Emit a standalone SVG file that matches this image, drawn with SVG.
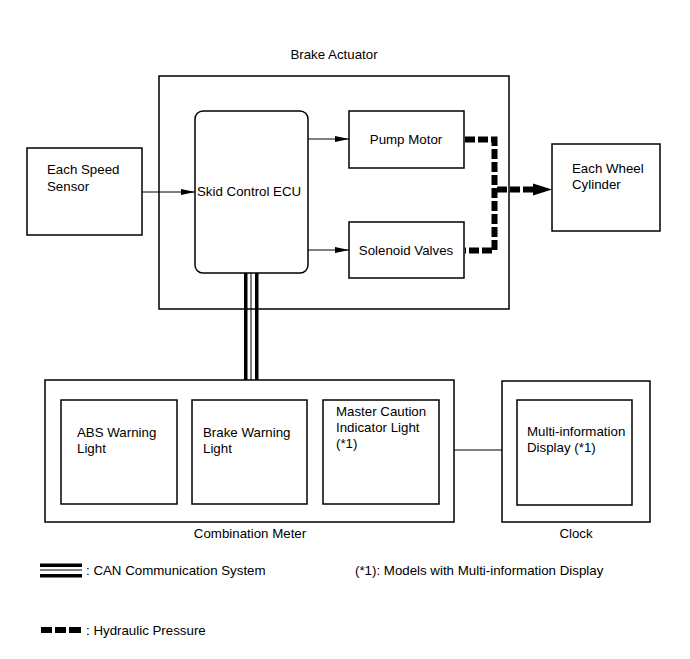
<svg xmlns="http://www.w3.org/2000/svg" width="690" height="659" viewBox="0 0 690 659">
<defs>
<style>
.box{fill:#fff;stroke:#000;stroke-width:1.5}
.t{font-family:"Liberation Sans",Arial,sans-serif;font-size:13.3px;fill:#000}
.mid{text-anchor:middle}
.thin{stroke:#000;stroke-width:1;fill:none}
.hyd{stroke:#000;stroke-width:6;fill:none;stroke-dasharray:10,3}
</style>
<marker id="arr" markerWidth="14" markerHeight="6" refX="14" refY="3" orient="auto" markerUnits="userSpaceOnUse">
<path d="M0,0 L14,3 L0,6 Z" fill="#000"/>
</marker>
</defs>
<rect width="690" height="659" fill="#fff"/>

<g id="brake-actuator">
<rect class="box" x="159" y="76" width="350" height="233"/>
<text class="t mid" x="334" y="59">Brake Actuator</text>
</g>

<g id="skid-control-ecu">
<rect class="box" x="195" y="111" width="113" height="162" rx="8"/>
<text class="t" x="197" y="196">Skid Control ECU</text>
</g>

<g id="pump-motor">
<rect class="box" x="349" y="111" width="115" height="57"/>
<text class="t mid" x="406" y="144">Pump Motor</text>
</g>

<g id="solenoid-valves">
<rect class="box" x="349" y="222" width="115" height="56"/>
<text class="t mid" x="406" y="255">Solenoid Valves</text>
</g>

<g id="each-speed-sensor">
<rect class="box" x="27" y="148" width="115" height="87"/>
<text class="t" x="47" y="174">Each Speed</text>
<text class="t" x="47" y="191">Sensor</text>
</g>

<g id="each-wheel-cylinder">
<rect class="box" x="552" y="144" width="108" height="87"/>
<text class="t" x="572" y="173">Each Wheel</text>
<text class="t" x="572" y="189">Cylinder</text>
</g>

<g id="combination-meter">
<rect class="box" x="45" y="380" width="409" height="142"/>
<text class="t mid" x="250" y="538">Combination Meter</text>
</g>

<g id="abs-warning-light">
<rect class="box" x="61" y="400" width="116" height="104"/>
<text class="t" x="77" y="437">ABS Warning</text>
<text class="t" x="77" y="453">Light</text>
</g>

<g id="brake-warning-light">
<rect class="box" x="192" y="400" width="115" height="104"/>
<text class="t" x="203" y="437">Brake Warning</text>
<text class="t" x="203" y="453">Light</text>
</g>

<g id="master-caution-indicator-light">
<rect class="box" x="323" y="400" width="116" height="104"/>
<text class="t" x="336" y="416">Master Caution</text>
<text class="t" x="336" y="432">Indicator Light</text>
<text class="t" x="336" y="448">(*1)</text>
</g>

<g id="clock">
<rect class="box" x="502" y="381" width="148" height="141"/>
<text class="t mid" x="576" y="538">Clock</text>
</g>

<g id="multi-information-display">
<rect class="box" x="517" y="400" width="115" height="105"/>
<text class="t" x="527" y="436">Multi-information</text>
<text class="t" x="527" y="452">Display (*1)</text>
</g>

<g id="connectors">
<line class="thin" x1="142" y1="192" x2="195" y2="192" marker-end="url(#arr)"/>
<line class="thin" x1="308" y1="139" x2="349" y2="139" marker-end="url(#arr)"/>
<line class="thin" x1="308" y1="250" x2="349" y2="250" marker-end="url(#arr)"/>
<line class="thin" x1="454" y1="450" x2="502" y2="450"/>
<rect x="244" y="273" width="3.5" height="107" fill="#000"/>
<rect x="250.5" y="273" width="1" height="107" fill="#000"/>
<rect x="255" y="273" width="3.5" height="107" fill="#000"/>
<path class="hyd" d="M465,139.5 H494.5 V250.5 H465"/>
<path class="hyd" d="M497,189.5 H534"/>
<polygon points="533,183.5 552,189.5 533,195.5" fill="#000"/>
</g>

<g id="legend">
<rect x="40" y="563.5" width="42" height="3.5" fill="#000"/>
<rect x="40" y="569.5" width="42" height="1" fill="#000"/>
<rect x="40" y="574" width="42" height="3.5" fill="#000"/>
<text class="t" x="86" y="575">: CAN Communication System</text>
<text class="t" x="355" y="575">(*1): Models with Multi-information Display</text>
<rect x="41" y="627" width="11" height="6" fill="#000"/>
<rect x="55" y="627" width="11" height="6" fill="#000"/>
<rect x="69" y="627" width="12" height="6" fill="#000"/>
<text class="t" x="86" y="635">: Hydraulic Pressure</text>
</g>
</svg>
